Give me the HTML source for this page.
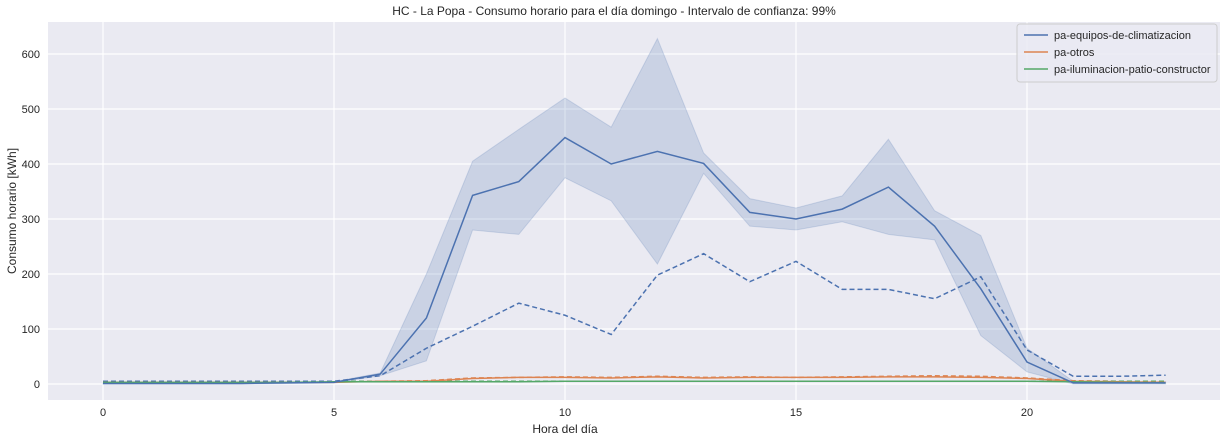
<!DOCTYPE html>
<html><head><meta charset="utf-8"><style>
body{margin:0;background:#fff;font-family:"Liberation Sans",sans-serif;}
svg text{font-family:"Liberation Sans",sans-serif;fill:#262626;}
</style></head><body>
<svg id="c" width="1228" height="442" xmlns="http://www.w3.org/2000/svg">
<text x="614" y="15" font-size="12" text-anchor="middle">HC - La Popa - Consumo horario para el día domingo - Intervalo de confianza: 99%</text>
<rect x="48" y="22" width="1172" height="378" fill="#eaeaf2"/>
<g id="grid"></g><g id="marks"></g><g id="ticks"></g>
<text x="565" y="433" font-size="12" text-anchor="middle">Hora del día</text>
<text transform="translate(16,211) rotate(-90)" font-size="12" text-anchor="middle">Consumo horario [kWh]</text>
<g>
<rect x="1017" y="24" width="200" height="58" rx="3" fill="#eaeaf2" stroke="#ccc" fill-opacity="0.8"/>
<g><line x1="1024" y1="35" x2="1048" y2="35" stroke="#4c72b0" stroke-width="1.5"/><text x="1054" y="39" font-size="11">pa-equipos-de-climatizacion</text></g>
<g><line x1="1024" y1="52" x2="1048" y2="52" stroke="#dd8452" stroke-width="1.5"/><text x="1054" y="56" font-size="11">pa-otros</text></g>
<g><line x1="1024" y1="69" x2="1048" y2="69" stroke="#55a868" stroke-width="1.5"/><text x="1054" y="73" font-size="11">pa-iluminacion-patio-constructor</text></g>
</g>
</svg>
<script>
const hours=[...Array(24).keys()];
const xTicks=[0,5,10,15,20];
const yTicks=[0,100,200,300,400,500,600];
const climMean=[1,1,1,1,2,3,18,120,343,368,448,400,423,401,312,300,318,358,287,173,40,2,2,2];
const climHi=[2,2,2,2,3,4,20,200,405,463,520,467,628,420,337,320,342,445,315,270,65,5,4,4];
const climLo=[0,0,0,0,1,2,15,42,280,272,375,333,218,383,287,280,295,272,262,88,22,0,0,0];
const climRef=[5,5,5,5,5,5,15,65,105,147,125,90,198,237,186,223,172,172,155,195,62,14,14,16];
const otrosMean=[3,3,3,3,3,3,5,5,10,12,12,11,13,11,12,12,12,13,13,12,10,5,4,3];
const otrosRef=[5,5,5,5,5,5,5,6,11,12,13,12,14,12,13,12,13,14,15,14,11,6,5,4];
const ilumMean=[3,3,3,3,3,4,4,4,4,4,5,5,5,5,5,5,5,5,5,5,5,4,3,2];
const ilumRef=[5,5,5,5,5,5,5,5,5,5,5,5,5,5,5,5,5,5,5,5,5,5,5,5];
const X=h=>103+h*46.2, Y=v=>384-v*0.55;
const NS='http://www.w3.org/2000/svg';
function mk(p,t,a){const e=document.createElementNS(NS,t);for(const k in a)e.setAttribute(k,a[k]);document.getElementById(p).appendChild(e);return e;}
xTicks.forEach(t=>{const l=mk('grid','line',{x1:X(t),x2:X(t),y1:22,y2:400,stroke:'#fff','stroke-width':1.2});


const tx=mk('ticks','text',{x:X(t),y:416,'font-size':11,'text-anchor':'middle'});tx.textContent=t;

});
yTicks.forEach(t=>{const l=mk('grid','line',{x1:48,x2:1220,y1:Y(t),y2:Y(t),stroke:'#fff','stroke-width':1.2});


const tx=mk('ticks','text',{x:40,y:Y(t)+4,'font-size':11,'text-anchor':'end'});tx.textContent=t;

});
const pts=a=>a.map((v,i)=>X(hours[i])+','+Y(v)).join(' ');
const band=mk('marks','polygon',{points:pts(climHi)+' '+climLo.map((v,i)=>X(hours[i])+','+Y(v)).reverse().join(' '),fill:'#4c72b0','fill-opacity':0.2,stroke:'#4c72b0','stroke-opacity':0.2});


function line(arr,c,dash,name){const p=mk('marks','polyline',{points:pts(arr),fill:'none',stroke:c,'stroke-width':1.5});
if(dash)p.setAttribute('stroke-dasharray','5,3');

}
line(otrosRef,'#dd8452',true,'otros-reference-line');
line(ilumRef,'#55a868',true,'iluminacion-reference-line');
line(climRef,'#4c72b0',true,'climatizacion-reference-line');
line(otrosMean,'#dd8452',false,'otros-line');
line(ilumMean,'#55a868',false,'iluminacion-line');
line(climMean,'#4c72b0',false,'climatizacion-line');
</script>
</body></html>
